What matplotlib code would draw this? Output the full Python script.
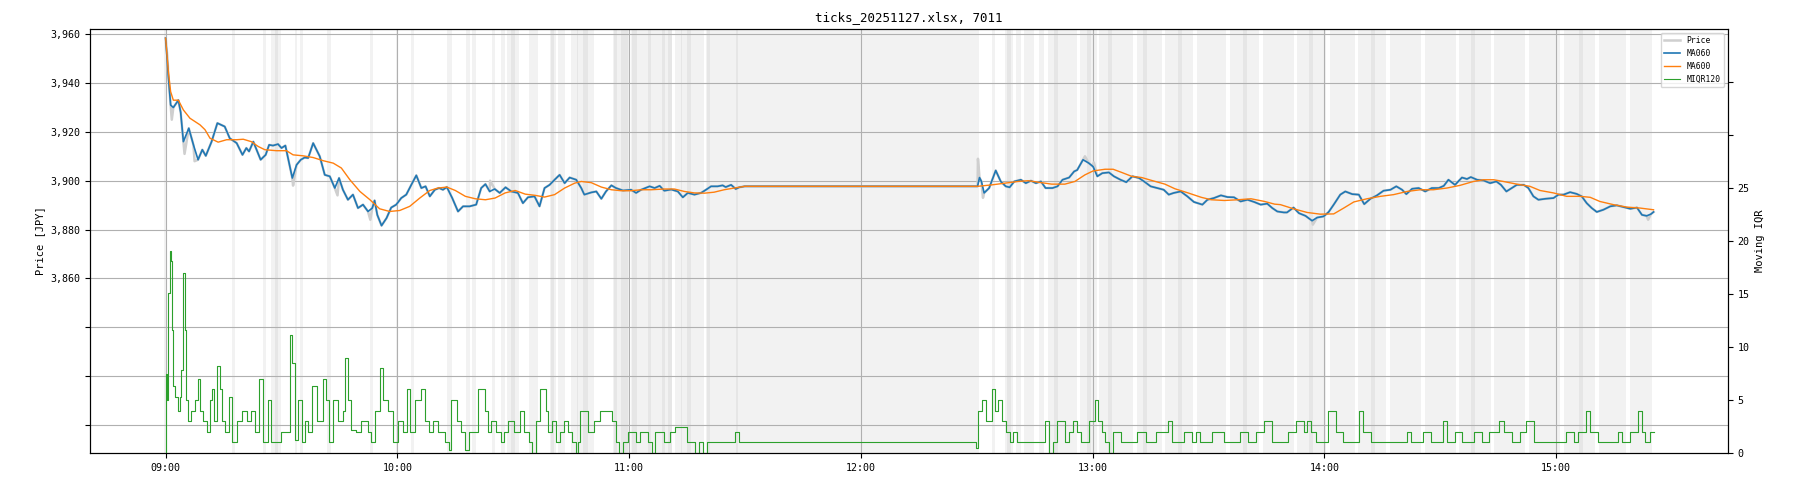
import numpy as np
import pandas as pd
import matplotlib
matplotlib.use("Agg")
import matplotlib.pyplot as plt
import matplotlib.dates as mdates
from matplotlib.ticker import FuncFormatter

# minutes after 09:00 / values
ma060_t = [0, 0.7, 1.3, 2, 3.3, 3.9, 4.6, 6, 7.2, 8.4, 9.5, 10.4, 11.9, 13.4, 15.3, 16.6,
           18.4, 19.9, 20.9, 21.6, 22.7, 24.6, 25.9, 26.8, 27.8, 29.1, 30, 31, 31.7, 32.8,
           33.9, 35, 36, 36.9, 38.2, 39.9, 41.2, 42.5, 43.8, 44.9, 45.9, 47.2, 48.5, 49.8,
           51.1, 52.4, 53.5, 54.1, 54.8, 55.9, 57.2, 58.4, 59.7, 61, 62.3, 63.6, 64.9, 66.2,
           67.3, 68.4, 69.7, 70.8, 71.8, 72.8, 74.2, 75.7, 77, 78.7, 80.4, 81.7, 82.8, 83.9,
           85.2, 86.5, 88, 89.5, 91.2, 92.5, 93.8, 95.5, 96.8, 98.1, 99.4, 100.7, 102, 103.3,
           104.6, 106.3, 107.6, 108.4, 110.2, 111.5, 112.8, 114, 115.4, 116.6, 118.4, 120.5,
           121.8, 123.1, 125.3, 126.6, 127.9, 129.1, 130.9, 132.6, 133.9, 135.2, 136.9, 138.6,
           139.9, 141.2, 142.9, 144.2, 145, 146.4, 147.6, 148.5, 149.9,
           210.2, 210.7, 211.2, 211.9, 213.2, 214.9, 216.2, 217.5, 218.5, 219.7, 221.4, 222.7,
           224, 225.3, 226.6, 227.8, 229.6, 230.9, 232.2, 233.9, 235.2, 236, 237.5, 239, 240.1,
           241.2, 242.5, 244.2, 245.5, 247.2, 248.7, 250.3, 252, 253.3, 255, 256.7, 258.4,
           259.7, 261, 262.8, 264.5, 266.2, 268.4, 269.7, 271.4, 273.2, 274.9, 276.6, 278.3,
           280.1, 281.8, 283.5, 285.2, 286.5, 287.8, 289.5, 290.3, 292, 293.4, 295.1, 296.8,
           298.1, 299.8, 301.1, 302.4, 304.1, 305.4, 307.2, 308.9, 310.3, 311.9, 313.6, 315.3,
           317.1, 318.6, 320.1, 321.2, 322.7, 324.4, 326.1, 327.8, 329.6, 330.9, 332.1, 333.8,
           335.6, 336.9, 337.9, 339.5, 341.2, 342.9, 344.5, 345.7, 347.1, 348.5, 349.8, 351.6,
           352.8, 354.1, 355.4, 357.2, 359.3, 360.6, 361.9, 363.6, 365.3, 366.6, 367.9, 369.2,
           370.5, 372.2, 374, 375.7, 377.4, 379.2, 380.9, 382.2, 383.4, 384.5, 385.2]
ma060_v = [3958.4, 3943, 3931, 3930, 3933, 3928, 3916, 3921.5, 3914.7, 3908.6, 3912.7, 3910.2,
           3916, 3923.6, 3922.2, 3917.4, 3915.4, 3910.6, 3913.4, 3912, 3916, 3908.6, 3910.6,
           3914.7, 3914.4, 3915, 3913.4, 3914.4, 3909.3, 3901.1, 3906.5, 3908.6, 3909.5, 3909.3,
           3915.4, 3910, 3902.4, 3901.8, 3897, 3901.1, 3896.3, 3892.2, 3894.3, 3888.8, 3890.2,
           3887.4, 3888.8, 3891.9, 3886, 3881.6, 3884.7, 3889, 3890.2, 3892.9, 3894.3, 3898.3,
           3902.2, 3897, 3897.7, 3893.6, 3896.3, 3897, 3896.3, 3897.4, 3892.9, 3887.4, 3889.5,
           3889.5, 3890.2, 3897, 3898.6, 3895.6, 3896.6, 3895, 3897.3, 3895.6, 3895, 3890.8,
           3893.2, 3893.6, 3889.5, 3897, 3898.3, 3900.4, 3902.4, 3899, 3901.3, 3900.4, 3897,
           3894.3, 3895.2, 3895.6, 3892.6, 3895.6, 3898.1, 3897, 3896, 3896.3, 3895, 3896.3,
           3897.7, 3897, 3897.9, 3895.9, 3896.4, 3895.6, 3893.2, 3895, 3894.3, 3895, 3896.3,
           3897.7, 3897.7, 3898.1, 3897.4, 3898.3, 3896.6, 3897.3, 3897.7,
           3897.7, 3901.3, 3899.7, 3895, 3897, 3904.2, 3899.7, 3897.7, 3897.3, 3899.7, 3900.4,
           3899, 3900, 3899, 3899.7, 3897, 3897, 3897.7, 3900.4, 3901.3, 3903.8, 3904.4,
           3908.6, 3907.2, 3905.8, 3901.8, 3903.1, 3903.4, 3901.8, 3900.4, 3899.4, 3901.8,
           3901.1, 3899.7, 3897.7, 3897, 3896.3, 3894.3, 3895, 3895.6, 3893.6, 3891.3, 3890.2,
           3892.2, 3892.9, 3894, 3893.3, 3893.2, 3891.5, 3892.2, 3891.3, 3890.2, 3890.6,
           3888.8, 3887.4, 3887, 3887, 3889, 3886.7, 3885.6, 3883.6, 3884.9, 3885.4, 3887.2,
           3890.2, 3894.3, 3895.6, 3894.5, 3894.3, 3890.4, 3892.6, 3894, 3895.9, 3896.3,
           3897.7, 3896.3, 3894.5, 3896.7, 3897, 3895.6, 3897, 3897, 3897.9, 3900.4, 3898.3,
           3901.3, 3900.7, 3901.5, 3900.4, 3900.1, 3899, 3899.7, 3898.3, 3895.6, 3897, 3898.3,
           3898.3, 3897, 3893.6, 3892.2, 3892.6, 3892.9, 3894.3, 3894.3, 3895.3, 3894.6,
           3893.6, 3890.8, 3888.8, 3887.2, 3888.1, 3889.5, 3889.9, 3889.2, 3888.5, 3889,
           3886, 3885.6, 3886.3, 3887.2]

# visible tick spikes of the raw price around the MA060 line
spike_t = [0.5, 1.6, 4.9, 7.5, 33.0, 44.5, 53.0, 84.0, 210.3, 211.6, 238.0, 240.3, 297.0, 383.8]
spike_v = [3950.0, 3925.0, 3911.0, 3908.0, 3898.0, 3894.0, 3884.0, 3900.0, 3909.0, 3893.0,
           3910.0, 3907.5, 3882.0, 3884.0]

ma600_t = [0, 0.7, 1.3, 2, 3.3, 4.6, 6.3, 8.9, 10.2, 11.5, 13.6, 15.8, 18.4, 20.1, 22.2, 24,
           25.7, 28.7, 31.3, 33, 35.6, 38.2, 40.8, 43.4, 45.5, 47.7, 50.3, 52.9, 55.4, 58,
           60.6, 63.2, 65.8, 68.4, 70.5, 72.8, 75, 77.6, 80.2, 82.8, 85.3, 87.9, 90.5, 93.1,
           95.7, 98.1, 100.7, 103.3, 105.9, 107.6, 110.2, 112.8, 115.4, 117.9, 120.5, 123.1,
           125.7, 129.1, 131.7, 134.3, 136.9, 139.5, 142, 144.6, 147.2, 149.9,
           210.2, 213.9, 217.3, 220.7, 223.3, 225.9, 229.4, 232.8, 235.4, 238, 240.1, 243.2,
           245.3, 247.5, 250.1, 252.7, 255.3, 258.7, 261.3, 264.7, 268.1, 270.7, 274.1, 277.6,
           281, 284.5, 287.1, 288.6, 292, 295.5, 298.9, 302.4, 305, 307.6, 311, 314.5, 317.9,
           321.4, 324.8, 328.2, 331.7, 335.1, 338.6, 341.2, 343.8, 346.3, 349.8, 353.2, 355.8,
           359.3, 362.7, 366.2, 368.8, 371.3, 374.8, 378.2, 381.7, 385.2]
ma600_v = [3958.4, 3945, 3936.5, 3933, 3933, 3929, 3925.6, 3922.9, 3920.9, 3917.4, 3915.8,
           3916.8, 3916.8, 3917, 3916, 3914, 3912.7, 3912.3, 3912.3, 3910.6, 3910.2, 3909.5,
           3908.2, 3907.2, 3905.2, 3900.4, 3895.6, 3892.2, 3888.5, 3887.4, 3887.8, 3889.5,
           3892.9, 3896, 3897, 3897.4, 3896, 3893.6, 3892.6, 3892.2, 3892.9, 3895, 3896,
           3894.5, 3894, 3893.3, 3894.3, 3897, 3899, 3899.7, 3899.2, 3897.4, 3896.3, 3895.9,
           3895.9, 3896.3, 3896.3, 3896.6, 3896.6, 3895.6, 3895, 3894.9, 3895.3, 3896.3,
           3897, 3897.7,
           3897.7, 3898.3, 3899, 3899.7, 3900, 3899.4, 3898.6, 3898.6, 3899.7, 3902.4, 3904,
           3904.7, 3904.7, 3903.4, 3901.8, 3901.3, 3900.1, 3898.6, 3896.7, 3895, 3893.2,
           3892.2, 3891.9, 3892.2, 3892.6, 3891.5, 3890.4, 3890.2, 3888.5, 3887, 3886.3,
           3886.4, 3888.8, 3891.3, 3892.6, 3893.6, 3894.3, 3895.6, 3896.3, 3896.3, 3897,
           3898.1, 3899.7, 3900.4, 3900.4, 3899.7, 3898.6, 3897.7, 3896, 3895, 3893.6,
           3893.6, 3893.2, 3891.5, 3890.2, 3889.2, 3888.8, 3888.1]

# moving IQR (right axis), (minute, value) steps
miqr = [(0, 0), (0.1, 7.5), (0.3, 5), (0.7, 15.1), (1.1, 19.1), (1.4, 18.1), (1.7, 11.6),
        (2, 6.3), (2.4, 5.3), (3.1, 4), (3.7, 5.3), (4.1, 7.8), (4.6, 17), (5, 11.6),
        (5.4, 5), (5.9, 3), (6.7, 4), (7.6, 5), (8.3, 7), (8.9, 4), (9.7, 3), (10.6, 2),
        (11.5, 5), (12.1, 6), (12.6, 3), (13.4, 8.2), (14.1, 6), (14.5, 3), (15.3, 2),
        (16.4, 5.3), (17.2, 1), (18.4, 3), (19.7, 4), (21, 3), (22.2, 4), (23.1, 2),
        (24.1, 7), (25.3, 1), (26.6, 5), (27.4, 1), (28.3, 1), (30, 2), (31.3, 2),
        (32.3, 11.1), (32.8, 8.5), (33.4, 1.2), (34.3, 5), (35.2, 1), (36, 3), (36.9, 2),
        (37.9, 6.3), (39.1, 3), (40.8, 7), (41.6, 5), (42.4, 1), (43.4, 5), (44.7, 3),
        (45.8, 4), (46.4, 9), (47.1, 5), (48.1, 2.2), (49.4, 2), (50.7, 3), (52.4, 2),
        (53.3, 1), (54.1, 4), (55.4, 8), (56.3, 5), (57.6, 4), (58.9, 1), (60.2, 3),
        (61.5, 2), (62.5, 6), (63.2, 2), (64.5, 5), (66.2, 6), (67.1, 3), (68.2, 2),
        (69.2, 3), (70.5, 2), (72.3, 1), (73.4, 0.3), (73.9, 5), (75.4, 3), (76.4, 2),
        (77.4, 0.3), (78.5, 2), (80.9, 6), (82.6, 4), (83.4, 2), (84.2, 3), (85.5, 2),
        (86.7, 1), (87.7, 2), (88.7, 3), (90.2, 2), (91.8, 4), (92.9, 2), (94, 1),
        (94.9, 0), (96, 3), (97, 6), (98.5, 4), (99, 2), (100, 3), (101.1, 1), (102.2, 2),
        (103.2, 3), (104.2, 2), (105.2, 1), (106.2, 0), (106.8, 1), (107.3, 4), (109.3, 2),
        (110.8, 3), (112.4, 4), (115.5, 3), (116.5, 1), (117.5, 0), (118.5, 1), (119.6, 2),
        (121.7, 1), (122.7, 2), (124.8, 1), (125.8, 0), (126.8, 2), (128.9, 1), (130.5, 2),
        (132, 2.5), (135.1, 1), (137.1, 0), (138.1, 1), (139.1, 0), (140.2, 1), (147.4, 2),
        (148.5, 1), (209.8, 0.5), (210.2, 4), (211.3, 5), (212.3, 3), (213.9, 6),
        (214.8, 4), (215.6, 5), (216.4, 3), (217.5, 2), (218.5, 1), (219.5, 2), (220.5, 1),
        (227.7, 3), (228.8, 0), (229.8, 1), (230.8, 3), (232.9, 1), (233.9, 2), (234.9, 3),
        (235.9, 2), (237, 1), (239, 3), (240.7, 5), (241.5, 3), (242.3, 2), (243.2, 1),
        (244.2, 0), (245.2, 2), (247.3, 1), (251.4, 2), (253.9, 1), (256.5, 2), (259.6, 3),
        (260.6, 1), (263.7, 2), (265.8, 1), (266.8, 2), (267.9, 1), (271, 2), (274, 1),
        (278.2, 2), (280.2, 1), (282.3, 2), (284.3, 3), (286.4, 1), (290.5, 2), (292.6, 3),
        (294.6, 2), (295.6, 3), (296.6, 2), (297.7, 1), (300.8, 4), (302.9, 2), (304.9, 1),
        (309, 4), (310.1, 2), (312.1, 1), (321.4, 2), (322.4, 1), (325.5, 2), (327.5, 1),
        (330.7, 3), (331.7, 1), (333.7, 2), (335.7, 1), (338.7, 2), (340.7, 1), (342.7, 2),
        (345.1, 3), (346.5, 2), (348.5, 1), (350.5, 2), (352.3, 3), (354.3, 1), (362.6, 2),
        (364.6, 1), (365.6, 2), (367.7, 4), (368.7, 2), (370.8, 1), (375.9, 2), (377, 1),
        (379, 2), (381.1, 4), (382.1, 2), (383.1, 1), (384.2, 2), (385.2, 2)]

# shaded periods (minutes after 09:00)
bands = [(-0.3, 0.3), (17.1, 17.9), (25.1, 26.1), (27.4, 30.0), (28.3, 29.2), (33.4, 33.9),
         (34.7, 35.6), (41.9, 42.7), (52.9, 53.8), (59.7, 60.2), (63.6, 64.3), (72.9, 74.1),
         (77.7, 78.8), (79.2, 80.4), (84.6, 85.3), (86.9, 87.8), (88.4, 91.6), (89.5, 90.5),
         (94.0, 96.4), (99.4, 101.1), (99.8, 100.6), (101.5, 103.3), (105.0, 111.0),
         (106.4, 106.8), (108.0, 109.3), (115.8, 120.2), (116.0, 116.9), (118.0, 119.6),
         (120.5, 131.0), (120.8, 122.0), (124.8, 125.7), (128.4, 129.3), (130.1, 131.0),
         (131.8, 139.5), (133.4, 133.8), (135.0, 135.9), (140.0, 148.2), (140.1, 141.0),
         (147.6, 148.2), (148.2, 210.5),
         (213.9, 214.7), (217.3, 219.3), (217.8, 218.8), (220.1, 221.4), (222.2, 224.8),
         (226.2, 227.4), (228.5, 236.0), (230.0, 231.0), (236.8, 241.0), (238.5, 239.5),
         (241.6, 250.5), (244.0, 245.0), (251.5, 258.0), (253.0, 254.0), (258.8, 266.0),
         (262.0, 263.0), (267.0, 274.5), (275.5, 283.0), (279.0, 280.0), (284.0, 292.0),
         (292.8, 300.5), (296.0, 297.0), (301.5, 308.0), (308.8, 316.0), (312.0, 313.0),
         (317.0, 325.0), (326.0, 334.0), (334.8, 343.0), (338.0, 339.0), (344.0, 352.0),
         (353.0, 361.0), (362.0, 370.0), (366.0, 367.0), (371.0, 378.0), (379.0, 384.8)]

base = pd.Timestamp("2025-11-27 09:00:00")


def to_time(minutes):
    return base + pd.to_timedelta(np.asarray(minutes, dtype=float), unit="min")


plt.rcParams["font.family"] = ["DejaVu Sans Mono"]

fig, ax = plt.subplots(figsize=(18, 4.82), dpi=100)
fig.subplots_adjust(left=0.05, right=0.96, top=0.94, bottom=0.06)
ax2 = ax.twinx()

for s, e in bands:
    ax.axvspan(to_time(s), to_time(e), color="gray", alpha=0.1, lw=0)

price = pd.concat([pd.Series(ma060_v, index=to_time(ma060_t)),
                   pd.Series(spike_v, index=to_time(spike_t))]).sort_index()

ax.plot(price.index, price.values, color="#cfcfcf", lw=1.8, label="Price")
ax.plot(to_time(ma060_t), ma060_v, color="C0", lw=1.2, label="MA060")
ax.plot(to_time(ma600_t), ma600_v, color="C1", lw=1.0, label="MA600")
iqr_t, iqr_v = zip(*miqr)
ax2.step(to_time(iqr_t), iqr_v, where="post", color="C2", lw=0.8, label="MIQR120")

ax.set_ylim(3788.4, 3962.2)
ax.set_yticks(np.arange(3800, 3961, 20))
ax.yaxis.set_major_formatter(FuncFormatter(lambda v, p: f"{v:,.0f}" if v >= 3860 else ""))
ax2.set_ylim(0, 40)
ax2.set_yticks(np.arange(0, 36, 5))
ax2.yaxis.set_major_formatter(FuncFormatter(lambda v, p: f"{v:.0f}" if v <= 25 else ""))

ax.xaxis.set_major_locator(mdates.HourLocator())
ax.xaxis.set_major_formatter(mdates.DateFormatter("%H:%M"))
ax.grid(True, color="#b0b0b0", lw=0.8)

ax.tick_params(labelsize=7.2)
ax2.tick_params(labelsize=7.2)
ax.set_ylabel("Price [JPY]", fontsize=7.5)
ax2.set_ylabel("Moving IQR", fontsize=7.5)
ax.set_title("ticks_20251127.xlsx, 7011", fontsize=9)

h1, l1 = ax.get_legend_handles_labels()
h2, l2 = ax2.get_legend_handles_labels()
ax2.legend(h1 + h2, l1 + l2, loc="upper right", fontsize=5.8)

fig.savefig("out.png")
